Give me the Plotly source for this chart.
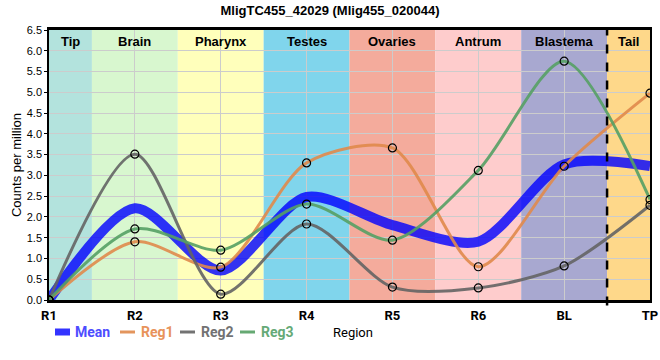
import plotly.graph_objects as go

categories = ["R1", "R2", "R3", "R4", "R5", "R6", "BL", "TP"]
reg1 = [0.0, 1.40, 0.79, 3.30, 3.66, 0.80, 3.22, 4.98]
reg2 = [0.0, 3.51, 0.14, 1.83, 0.31, 0.29, 0.82, 2.28]
reg3 = [0.0, 1.71, 1.20, 2.31, 1.44, 3.12, 5.75, 2.42]
mean = [(a + b + c) / 3 for a, b, c in zip(reg1, reg2, reg3)]

bands = ["Tip", "Brain", "Pharynx", "Testes", "Ovaries", "Antrum", "Blastema", "Tail"]
band_edges = [0, 0.5, 1.5, 2.5, 3.5, 4.5, 5.5, 6.5, 7]
band_colors = ["#b3e3dd", "#d8f7cf", "#ffffbb", "#80d5ec", "#f4ab9c", "#fecccc", "#a8a8d0", "#fed88a"]

x = list(range(len(categories)))

L, R, T, B, W, H = 49, 10, 30, 60, 660, 360
PW, PH = W - L - R, H - T - B


def px2paper(px, py):
    return (px - L) / PW, (H - B - py) / PH


fig = go.Figure()

series = [
    ("Mean", mean, "rgba(0,0,255,0.8)", 10, "#4d4dff", False),
    ("Reg1", reg1, "rgba(224,138,75,0.9)", 3, "#e8935a", True),
    ("Reg2", reg2, "rgba(100,100,100,0.9)", 3, "#727272", True),
    ("Reg3", reg3, "rgba(85,160,100,0.9)", 3, "#66aa77", True),
]
for name, vals, color, w, tcol, _ in series:
    fig.add_trace(go.Scatter(
        x=x, y=vals, mode="lines",
        line=dict(color=color, width=w, shape="spline", smoothing=0.8),
        name=name, showlegend=False, hoverinfo="skip",
    ))
for name, vals, color, w, tcol, show in series:
    if show:
        fig.add_trace(go.Scatter(
            x=x, y=vals, mode="markers",
            marker=dict(size=8, color="rgba(0,0,0,0)", line=dict(color="black", width=1.2)),
            showlegend=False, hoverinfo="skip",
        ))

shapes = []
for i, b in enumerate(bands):
    shapes.append(dict(type="rect", xref="x", yref="y", x0=band_edges[i], x1=band_edges[i + 1],
                       y0=0, y1=6.5, fillcolor=band_colors[i], line=dict(width=0), layer="below"))
    fig.add_annotation(x=(band_edges[i] + band_edges[i + 1]) / 2, y=1, xref="x", yref="paper",
                       yanchor="top", yshift=-2, text=f"<b>{b}</b>", showarrow=False,
                       font=dict(family="Liberation Sans, Arial", size=13, color="black"))
shapes.append(dict(type="line", xref="x", yref="paper", x0=6.5, x1=6.5, y0=-0.02, y1=1,
                   line=dict(color="black", width=2.5, dash="dash"), layer="above"))

# manual legend (pixel positions of the reference)
legend_items = [(55, 73), (120, 139), (180, 199), (240, 259)]
ly = 332
for (sx, tx), (name, vals, color, w, tcol, _) in zip(legend_items, series):
    x0, y0 = px2paper(sx, ly)
    x1, _ = px2paper(sx + 15, ly)
    shapes.append(dict(type="line", xref="paper", yref="paper", x0=x0, x1=x1, y0=y0, y1=y0,
                       line=dict(color=color, width=7 if name == "Mean" else 3)))
    tx0, _ = px2paper(tx, ly)
    fig.add_annotation(x=tx0, y=y0, xref="paper", yref="paper", xanchor="left", yanchor="middle",
                       text=f"<b>{name}</b>", showarrow=False,
                       font=dict(family="Roboto", size=14, color=tcol))
rx, ry = px2paper(331, ly)
fig.add_annotation(x=rx, y=ry, xref="paper", yref="paper", xanchor="left", yanchor="middle",
                   text="Region", showarrow=False,
                   font=dict(family="Roboto", size=13, color="black"))

fig.update_layout(
    width=W, height=H,
    margin=dict(l=L, r=R, t=T, b=B),
    paper_bgcolor="white", plot_bgcolor="white",
    shapes=shapes,
    title=dict(text="<b>MligTC455_42029 (Mlig455_020044)</b>", x=0.5, xanchor="center",
               y=0.985, yanchor="top",
               font=dict(family="Liberation Sans, Arial", size=13, color="black")),
    xaxis=dict(range=[0, 7], tickvals=x, ticktext=[f"<b>{c}</b>" for c in categories],
               showgrid=True, gridcolor="#cccccc", gridwidth=1, automargin=False,
               showline=True, linecolor="black", linewidth=2.5, mirror=True,
               ticks="", ticklabelstandoff=2,
               tickfont=dict(family="Roboto", size=13, color="black"), zeroline=False),
    yaxis=dict(range=[0, 6.5], dtick=0.5, tickformat=".1f", automargin=False,
               showgrid=True, gridcolor="#cccccc", gridwidth=1,
               showline=True, linecolor="black", linewidth=1.5, mirror=True,
               ticks="outside", ticklen=3, tickcolor="black",
               tickfont=dict(family="Liberation Sans, Arial", size=11, color="black"),
               title=dict(text="Counts per million", font=dict(family="Liberation Sans, Arial", size=13, color="black"), standoff=2),
               zeroline=False),
    showlegend=False,
)

fig.write_html("out.html", config={"displayModeBar": False},
               post_script="document.body.style.margin='0px';")
